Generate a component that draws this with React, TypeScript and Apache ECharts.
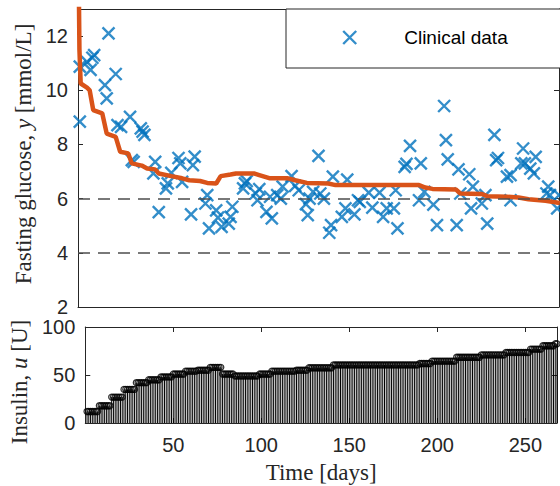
import React, { useEffect, useRef } from "react";
import * as echarts from "echarts";

// ---- Data ----
// Clinical fasting-glucose measurements (day, mmol/L)
const clinicalDays = [
  1, 1, 5, 7, 8, 9, 15, 16, 17, 21, 22, 24, 29, 30, 31, 35, 36, 37,
  42, 43, 45, 49, 50, 52, 56, 57, 58, 63, 64, 65,
  71, 72, 73, 77, 78, 80, 84, 85, 86, 92, 93, 94, 99, 100, 101, 105, 107, 108,
  111, 113, 114, 119, 121, 123, 127, 128, 129, 131,
  134, 135, 137, 140, 141, 142, 147, 149, 150, 154, 156, 157, 162, 164, 168,
  170, 172, 176, 177, 178, 182, 183, 185, 190, 191, 193, 198, 200,
  204, 205, 206, 211, 212, 213, 218, 219, 220, 225, 227, 228, 232, 233, 234,
  239, 241, 241, 247, 248, 249, 252, 254, 255, 261, 262, 263, 267, 268,
];
const clinicalGlucose = [
  8.84, 10.87, 11.05, 10.75, 11.2, 11.3, 10.19, 9.7, 12.1, 10.6, 8.71, 8.65, 9.02, 7.42, 7.36, 8.59, 8.47, 8.35,
  6.93, 7.36, 5.5, 6.38, 6.56, 6.95, 7.5, 7.3, 6.62, 5.42, 7.24, 7.55,
  5.82, 6.13, 4.9, 5.57, 5.3, 4.96, 5.08, 5.33, 5.7, 6.38, 6.56, 6.65, 6.19, 5.94, 6.35, 5.51, 6.07, 5.27,
  6.13, 6.0, 6.44, 6.83, 6.47, 6.31, 5.8, 5.39, 6.0, 6.25,
  7.58, 6.19, 6.0, 4.74, 5.02, 6.81, 5.33, 5.64, 6.7, 5.42, 5.94, 5.88, 6.22, 5.67, 6.22,
  5.33, 5.64, 5.64, 6.31, 4.9, 7.17, 7.28, 7.95, 5.94, 7.3, 6.25, 5.78, 5.02,
  9.42, 8.16, 7.45, 5.02, 7.08, 6.19, 6.9, 5.64, 6.44, 5.82, 6.13, 5.08, 8.35, 7.42, 7.5,
  6.81, 6.87, 5.94, 7.3, 7.85, 7.3, 7.11, 6.93, 7.54, 6.19, 6.44, 6.13, 5.64, 6.13,
];

// Model-predicted fasting glucose (orange curve)
const modelDays = [
  0.5, 0.8, 1.5, 5, 6.5, 8.5, 13.5, 16, 21, 23.5, 28, 30, 35.5, 38.5, 43, 45, 52, 58, 62, 68,
  72, 77, 79.5, 85, 88, 98, 101, 107, 117, 121, 127.5, 139.5, 143.5, 190, 193.5, 197.5,
  210.5, 213, 225, 228, 239, 245.5, 251, 260.5, 268.5,
];
const modelGlucose = [
  13.5, 11.5, 10.25, 10.1, 10.0, 9.27, 9.15, 8.4, 8.28, 7.73, 7.67, 7.3, 7.22, 7.11, 7.08, 6.93, 6.83, 6.75, 6.68, 6.65,
  6.58, 6.56, 6.83, 6.89, 6.93, 6.93, 6.87, 6.75, 6.75, 6.68, 6.58, 6.56, 6.5, 6.5, 6.41, 6.36,
  6.34, 6.19, 6.17, 6.09, 6.07, 6.04, 5.98, 5.92, 5.84,
];

// Insulin dose [U] per treatment week (week 1 = days 1-7, week 2 = days 8-14, ...)
const weeklyInsulin = [
  12, 18, 27, 35, 42, 45, 48, 51, 54, 55, 58, 51, 49, 49, 51, 54, 54, 55, 57.5, 57.5,
  60.5, 60.5, 60.5, 60.5, 60.5, 60.5, 60.5, 62, 64.5, 64.5, 68.5, 68.5, 71, 71, 73.5, 73.5,
  77, 80.5, 82.5,
];
const lastDay = 268;
const referenceLevels = [6, 4];

const glucoseTicks = { min: 2, max: 13, interval: 2 };
const insulinTicks = { min: 0, max: 100, interval: 50 };
const dayTicks = { min: 0, max: 268, interval: 50 };

const BLUE = "#0072BD";
const ORANGE = "#D95319";
const AXIS = "#262626";
const SANS = "'Liberation Sans', Arial, Helvetica, sans-serif";
const SERIF = "'Liberation Serif', 'Times New Roman', serif";
const X_PATH = "path://M0,0L10,10M10,0L0,10";

export default function App() {
  const ref = useRef<HTMLDivElement>(null);

  useEffect(() => {
    if (!ref.current) return;
    const chart = echarts.init(ref.current, undefined, { renderer: "svg" });

    const days: number[] = [];
    for (let d = 1; d <= lastDay; d++) days.push(d);
    const stemData = days.map((d) => [d, weeklyInsulin[Math.floor((d - 1) / 7)]]);
    const clinical = clinicalDays.map((d, i) => [d, clinicalGlucose[i]]);
    const model = modelDays.map((d, i) => [d, modelGlucose[i]]);

    const lineStyle = { color: AXIS, width: 1 };
    const tickStyle = { show: true, inside: true, length: 5, lineStyle: { color: AXIS, width: 1 } };
    const nameRich = {
      r: { fontFamily: SERIF, fontSize: 23, color: AXIS },
      i: { fontFamily: SERIF, fontSize: 23, color: AXIS, fontStyle: "italic" },
    };
    const tickLabel = { fontFamily: SANS, fontSize: 20, color: AXIS };

    const option: any = {
      animation: false,
      backgroundColor: "#ffffff",
      grid: [
        { left: 78, top: 9, width: 481, height: 298 },
        { left: 78, top: 327, width: 481, height: 96 },
      ],
      legend: {
        data: ["Clinical data"],
        left: 342,
        top: 28,
        padding: 0,
        icon: X_PATH,
        itemWidth: 13,
        itemHeight: 13,
        itemStyle: { color: BLUE, borderColor: BLUE, borderWidth: 2.4 },
        textStyle: { fontFamily: SANS, fontSize: 19, color: "#000", padding: [0, 0, 0, 43] },
      },
      graphic: [
        {
          type: "rect",
          z: 3,
          shape: { x: 286, y: 9, width: 300, height: 59 },
          style: { fill: "#ffffff", stroke: AXIS, lineWidth: 1 },
        },
      ],
      xAxis: [
        {
          gridIndex: 0, type: "value", ...dayTicks, position: "bottom",
          axisLine: { show: true, onZero: false, lineStyle }, axisTick: { show: false },
          axisLabel: { show: false }, splitLine: { show: false },
        },
        {
          gridIndex: 0, type: "value", ...dayTicks, position: "top",
          axisLine: { show: true, onZero: false, lineStyle }, axisTick: { show: false },
          axisLabel: { show: false }, splitLine: { show: false },
        },
        {
          gridIndex: 1, type: "value", ...dayTicks, position: "bottom",
          axisLine: { show: true, onZero: false, lineStyle }, axisTick: tickStyle,
          axisLabel: {
            ...tickLabel, margin: 12,
            formatter: (v: number) => (v === dayTicks.min || v === dayTicks.max ? "" : String(v)),
          },
          splitLine: { show: false },
          name: "Time [days]", nameLocation: "middle", nameGap: 38,
          nameTextStyle: { fontFamily: SERIF, fontSize: 23, color: AXIS },
        },
        {
          gridIndex: 1, type: "value", ...dayTicks, position: "top",
          axisLine: { show: true, onZero: false, lineStyle }, axisTick: tickStyle,
          axisLabel: { show: false }, splitLine: { show: false },
        },
      ],
      yAxis: [
        {
          gridIndex: 0, type: "value", ...glucoseTicks, position: "left",
          axisLine: { show: true, onZero: false, lineStyle }, axisTick: tickStyle,
          axisLabel: {
            ...tickLabel, margin: 10,
            formatter: (v: number) => (v === glucoseTicks.max ? "" : String(v)),
          },
          splitLine: { show: false },
          name: "{r|Fasting glucose, }{i|y}{r| [mmol/L]}", nameLocation: "middle", nameGap: 42,
          nameTextStyle: { rich: nameRich, padding: [0, 0, 0, 8] },
        },
        {
          gridIndex: 0, type: "value", ...glucoseTicks, position: "right",
          axisLine: { show: true, onZero: false, lineStyle }, axisTick: tickStyle,
          axisLabel: { show: false }, splitLine: { show: false },
        },
        {
          gridIndex: 1, type: "value", ...insulinTicks, position: "left",
          axisLine: { show: true, onZero: false, lineStyle }, axisTick: tickStyle,
          axisLabel: { ...tickLabel, margin: 10 },
          splitLine: { show: false },
          name: "{r|Insulin, }{i|u}{r| [U]}", nameLocation: "middle", nameGap: 42,
          nameTextStyle: { rich: nameRich, padding: [0, 14, 0, 0] },
        },
        {
          gridIndex: 1, type: "value", ...insulinTicks, position: "right",
          axisLine: { show: true, onZero: false, lineStyle }, axisTick: tickStyle,
          axisLabel: { show: false }, splitLine: { show: false },
        },
      ],
      series: [
        {
          name: "Clinical data",
          type: "scatter",
          xAxisIndex: 0, yAxisIndex: 0,
          data: clinical,
          symbol: X_PATH,
          symbolSize: 12,
          itemStyle: { color: BLUE, borderColor: BLUE, borderWidth: 2.4 },
          z: 3,
          markLine: {
            silent: true,
            symbol: "none",
            label: { show: false },
            lineStyle: { color: "#4d4d4d", width: 1.5, type: [12, 8] },
            data: referenceLevels.map((v) => ({ yAxis: v })),
          },
        },
        {
          name: "Model",
          type: "line",
          xAxisIndex: 0, yAxisIndex: 0,
          data: model,
          showSymbol: false,
          symbol: "none",
          lineStyle: { color: ORANGE, width: 4.5 },
          z: 4,
        },
        {
          name: "Insulin",
          type: "bar",
          xAxisIndex: 2, yAxisIndex: 2,
          data: stemData,
          barWidth: 1,
          itemStyle: { color: "#000" },
        },
        {
          name: "Insulin markers",
          type: "scatter",
          xAxisIndex: 2, yAxisIndex: 2,
          data: stemData,
          symbol: "circle",
          symbolSize: 6,
          itemStyle: { color: "none", borderColor: "#000", borderWidth: 1.3 },
        },
      ],
    };

    chart.setOption(option);
    return () => chart.dispose();
  }, []);

  return (
    <div
      ref={ref}
      style={{ position: "fixed", left: 0, top: 0, width: 560, height: 486, background: "#fff" }}
    />
  );
}
